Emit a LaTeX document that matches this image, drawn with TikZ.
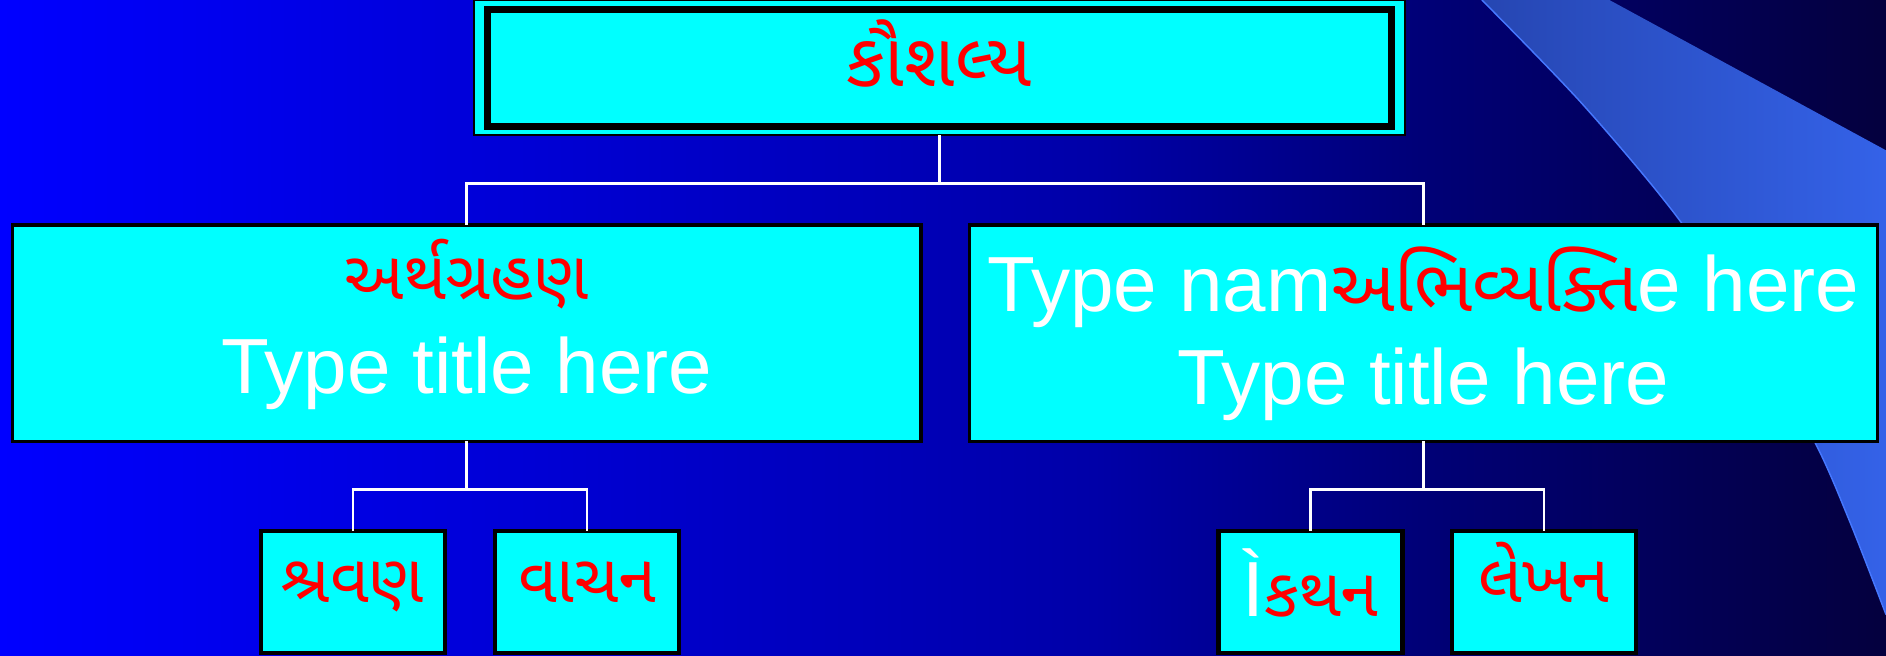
\documentclass[tikz,border=0pt]{standalone}
\usepackage{fontspec}
\setmainfont{Liberation Sans}
\newfontfamily\gujfont[Script=Gujarati]{Noto Sans Gujarati UI}
\usetikzlibrary{positioning}

\definecolor{bgA}{RGB}{0,0,255}
\definecolor{bgB}{RGB}{0,0,168}
\definecolor{bgC}{RGB}{0,0,120}
\definecolor{bgD}{RGB}{4,0,62}
\definecolor{bandL}{RGB}{38,70,178}
\definecolor{bandR}{RGB}{52,98,232}
\definecolor{bandEdge}{RGB}{70,120,255}
\definecolor{boxfill}{RGB}{0,255,255}

% red gujarati words, size as optional argument
\newcommand{\guj}[2][56]{{\gujfont\fontsize{#1}{#1}\selectfont\color{red}#2}}

\begin{document}
\begin{tikzpicture}[
                x=1pt,y=1pt,
                every node/.append style={inner sep=0pt,outer sep=0pt,font=\fontsize{65}{65}\selectfont},
                topbox/.style={draw=black,line width=1.5pt,fill=boxfill,minimum width=774pt,minimum height=112pt,
                    path picture={\draw[line width=6pt] ([shift={(11pt,7.5pt)}]path picture bounding box.south west)
                        rectangle ([shift={(-11pt,-7.5pt)}]path picture bounding box.north east);}},
                midbox/.style={draw=black,line width=3pt,fill=boxfill,minimum width=755pt,minimum height=180pt},
                leafbox/.style={draw=black,line width=3.5pt,fill=boxfill,minimum width=153pt,minimum height=101.5pt},
                boxtext/.style={text=white,anchor=base},
                wire/.style={draw=white,line width=2pt}
            ]
                % background and the light band
                \useasboundingbox (0,0) rectangle (1568,545);
                \shade[left color=bgA,right color=bgB] (0,0) rectangle (910.5,545);
                \shade[left color=bgB,right color=bgC] (909.5,0) rectangle (1176.5,545);
                \shade[left color=bgC,right color=bgD] (1175.5,0) rectangle (1568,545);
                \shade[left color=bandL,right color=bandR]
                    plot[smooth] coordinates {(1232,545) (1316,458) (1397,361) (1458,265) (1509,177) (1538,111) (1568,34)}
                    -- (1568,420) -- (1338,545) -- cycle;
                \draw[bandEdge,line width=1.2pt]
                    plot[smooth] coordinates {(1232,545) (1316,458) (1397,361) (1458,265) (1509,177) (1538,111) (1568,34)};

                % boxes
                \node[topbox] (skill) at (781,488.5) {};
                \node[midbox] (recv) [below left=74.5pt and 15.5pt of skill.south] {};
                \node[midbox] (expr) [right=40.5pt of recv] {};
                \node[leafbox] (listen) [below=74.5pt of recv.south,xshift=-94.6pt] {};
                \node[leafbox] (read)   [below=74.5pt of recv.south,xshift=100pt] {};
                \node[leafbox] (speak)  [below=74.5pt of expr.south,xshift=-94pt] {};
                \node[leafbox] (write)  [below=74.5pt of expr.south,xshift=100pt] {};

                % texts
                \node[boxtext] (skill-t) at ([yshift=-15.5pt]skill.center) {\guj[62]{કૌશલ્ય}};
                \node[boxtext] (recv-n)  at ([yshift=28pt]recv.center) {\guj{અર્થગ્રહણ}};
                \node[boxtext] (recv-t)  at ([yshift=-50pt]recv.center) {Type title here};
                \node[boxtext] (expr-n)  at ([yshift=18pt]expr.center) {Type nam\guj[60]{અભિવ્યક્તિ}e here};
                \node[boxtext] (expr-t)  at ([yshift=-59pt]expr.center) {Type title here};
                \node[boxtext] (listen-t) at ([yshift=-9pt]listen.center) {\guj{શ્રવણ}};
                \node[boxtext] (read-t)   at ([yshift=-9pt]read.center) {\guj{વાચન}};
                \node[boxtext] (speak-t)  at ([yshift=-20.5pt]speak.center) {Ì\guj{કથન}};
                \node[boxtext] (write-t)  at ([yshift=-9pt]write.center) {\guj{લેખન}};

                % connectors
                \draw[wire] (skill.south) -- ++(0,-40) -| (recv.north);
                \draw[wire] (skill.south) -- ++(0,-40) -| (expr.north);
                \draw[wire] (recv.south) -- ++(0,-40) -| (listen.north);
                \draw[wire] (recv.south) -- ++(0,-40) -| (read.north);
                \draw[wire] (expr.south) -- ++(0,-40) -| (speak.north);
                \draw[wire] (expr.south) -- ++(0,-40) -| (write.north);
            \end{tikzpicture}
\end{document}
